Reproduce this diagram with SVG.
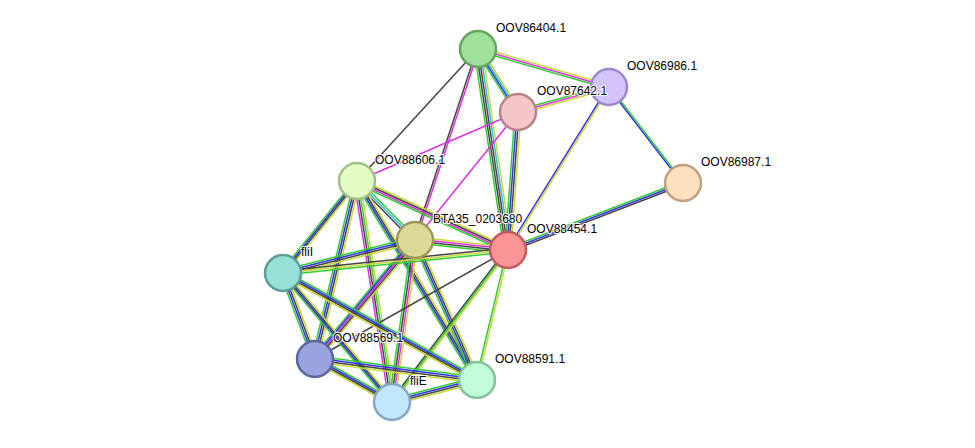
<svg xmlns="http://www.w3.org/2000/svg" width="975" height="448" viewBox="0 0 975 448">
<style>
line{stroke-width:1.5;fill:none}
.g{stroke:#33cc33}.b{stroke:#3333ee}.k{stroke:#444}.y{stroke:#c8d83a}.m{stroke:#dd33dd}.c{stroke:#33bbdd}
circle{stroke-width:2.5}
text{font-family:"Liberation Sans",Arial,sans-serif;font-size:12px;fill:#000;paint-order:stroke;stroke:#fff;stroke-width:2px}
</style>
<rect width="975" height="448" fill="#fff"/>
<g id="edges">
<!-- A-B -->
<line x1="478" y1="49" x2="609" y2="87" class="y" transform="translate(0,-2)"/>
<line x1="478" y1="49" x2="609" y2="87" class="m"/>
<line x1="478" y1="49" x2="609" y2="87" class="g" transform="translate(0,2)"/>
<!-- A-C -->
<line x1="478" y1="49" x2="518" y2="112" class="g" transform="translate(-3,0)"/>
<line x1="478" y1="49" x2="518" y2="112" class="b" transform="translate(-1,0)"/>
<line x1="478" y1="49" x2="518" y2="112" class="c" transform="translate(1,0)"/>
<line x1="478" y1="49" x2="518" y2="112" class="y" transform="translate(3,0)"/>
<!-- A-G -->
<line x1="478" y1="49" x2="508" y2="250" class="g" transform="translate(-4,0)"/>
<line x1="478" y1="49" x2="508" y2="250" class="k" transform="translate(-2,0)"/>
<line x1="478" y1="49" x2="508" y2="250" class="k"/>
<line x1="478" y1="49" x2="508" y2="250" class="c" transform="translate(2,0)"/>
<line x1="478" y1="49" x2="508" y2="250" class="y" transform="translate(4,0)"/>
<!-- A-E, A-F -->
<line x1="478" y1="49" x2="357" y2="181" class="k"/>
<line x1="478" y1="49" x2="415" y2="240" class="k" transform="translate(-1,0)"/>
<line x1="478" y1="49" x2="415" y2="240" class="m" transform="translate(1,0)"/>
<!-- C-B -->
<line x1="518" y1="112" x2="609" y2="87" class="g" transform="translate(0,-2)"/>
<line x1="518" y1="112" x2="609" y2="87" class="m"/>
<line x1="518" y1="112" x2="609" y2="87" class="y" transform="translate(0,2)"/>
<!-- C-G -->
<line x1="518" y1="112" x2="508" y2="250" class="g" transform="translate(-3,0)"/>
<line x1="518" y1="112" x2="508" y2="250" class="b" transform="translate(-1,0)"/>
<line x1="518" y1="112" x2="508" y2="250" class="k" transform="translate(1,0)"/>
<line x1="518" y1="112" x2="508" y2="250" class="y" transform="translate(3,0)"/>
<!-- C-E, C-F -->
<line x1="518" y1="112" x2="357" y2="181" class="m"/>
<line x1="518" y1="112" x2="415" y2="240" class="m"/>
<!-- B-G -->
<line x1="609" y1="87" x2="508" y2="250" class="b" transform="translate(-1,0)"/>
<line x1="609" y1="87" x2="508" y2="250" class="y" transform="translate(1,0)"/>
<!-- B-D -->
<line x1="609" y1="87" x2="683" y2="183" class="b" transform="translate(-1,0)"/>
<line x1="609" y1="87" x2="683" y2="183" class="g" transform="translate(1,0)"/>
<!-- D-G -->
<line x1="683" y1="183" x2="508" y2="250" class="g" transform="translate(0,-2)"/>
<line x1="683" y1="183" x2="508" y2="250" class="b"/>
<line x1="683" y1="183" x2="508" y2="250" class="k" transform="translate(0,2)"/>
<!-- E-F -->
<line x1="357" y1="181" x2="415" y2="240" class="k" transform="translate(-1.5,1.5)"/>
<line x1="357" y1="181" x2="415" y2="240" class="c" transform="translate(0,0)"/>
<line x1="357" y1="181" x2="415" y2="240" class="g" transform="translate(1.5,-1.5)"/>
<!-- E-G -->
<line x1="357" y1="181" x2="508" y2="250" class="y" transform="translate(0,-3)"/>
<line x1="357" y1="181" x2="508" y2="250" class="k" transform="translate(0,-1)"/>
<line x1="357" y1="181" x2="508" y2="250" class="m" transform="translate(0,1)"/>
<line x1="357" y1="181" x2="508" y2="250" class="g" transform="translate(0,3)"/>
<!-- E-H -->
<line x1="357" y1="181" x2="283" y2="273" class="g" transform="translate(-3,0)"/>
<line x1="357" y1="181" x2="283" y2="273" class="b" transform="translate(-1,0)"/>
<line x1="357" y1="181" x2="283" y2="273" class="k" transform="translate(1,0)"/>
<line x1="357" y1="181" x2="283" y2="273" class="y" transform="translate(3,0)"/>
<!-- E-I -->
<line x1="357" y1="181" x2="315" y2="359" class="g" transform="translate(-3,0)"/>
<line x1="357" y1="181" x2="315" y2="359" class="b" transform="translate(-1,0)"/>
<line x1="357" y1="181" x2="315" y2="359" class="k" transform="translate(1,0)"/>
<line x1="357" y1="181" x2="315" y2="359" class="y" transform="translate(3,0)"/>
<!-- E-K -->
<line x1="357" y1="181" x2="392" y2="402" class="m" transform="translate(-3,0)"/>
<line x1="357" y1="181" x2="392" y2="402" class="k" transform="translate(-1,0)"/>
<line x1="357" y1="181" x2="392" y2="402" class="g" transform="translate(1,0)"/>
<line x1="357" y1="181" x2="392" y2="402" class="y" transform="translate(3,0)"/>
<!-- E-J -->
<line x1="357" y1="181" x2="477" y2="380" class="g" transform="translate(-3,0)"/>
<line x1="357" y1="181" x2="477" y2="380" class="b" transform="translate(-1,0)"/>
<line x1="357" y1="181" x2="477" y2="380" class="k" transform="translate(1,0)"/>
<line x1="357" y1="181" x2="477" y2="380" class="y" transform="translate(3,0)"/>
<!-- F-G -->
<line x1="415" y1="240" x2="508" y2="250" class="y" transform="translate(0,-3)"/>
<line x1="415" y1="240" x2="508" y2="250" class="m" transform="translate(0,-1)"/>
<line x1="415" y1="240" x2="508" y2="250" class="k" transform="translate(0,1)"/>
<line x1="415" y1="240" x2="508" y2="250" class="g" transform="translate(0,3)"/>
<!-- F-H -->
<line x1="415" y1="240" x2="283" y2="273" class="g" transform="translate(0,-3)"/>
<line x1="415" y1="240" x2="283" y2="273" class="b" transform="translate(0,-1)"/>
<line x1="415" y1="240" x2="283" y2="273" class="k" transform="translate(0,1)"/>
<line x1="415" y1="240" x2="283" y2="273" class="y" transform="translate(0,3)"/>
<!-- F-I -->
<line x1="415" y1="240" x2="315" y2="359" class="g" transform="translate(-4,0)"/>
<line x1="415" y1="240" x2="315" y2="359" class="b" transform="translate(-2,0)"/>
<line x1="415" y1="240" x2="315" y2="359" class="m"/>
<line x1="415" y1="240" x2="315" y2="359" class="k" transform="translate(2,0)"/>
<line x1="415" y1="240" x2="315" y2="359" class="y" transform="translate(4,0)"/>
<!-- F-K -->
<line x1="415" y1="240" x2="392" y2="402" class="g" transform="translate(-3,0)"/>
<line x1="415" y1="240" x2="392" y2="402" class="k" transform="translate(-1,0)"/>
<line x1="415" y1="240" x2="392" y2="402" class="m" transform="translate(1,0)"/>
<line x1="415" y1="240" x2="392" y2="402" class="y" transform="translate(3,0)"/>
<!-- F-J -->
<line x1="415" y1="240" x2="477" y2="380" class="g" transform="translate(-3,0)"/>
<line x1="415" y1="240" x2="477" y2="380" class="b" transform="translate(-1,0)"/>
<line x1="415" y1="240" x2="477" y2="380" class="k" transform="translate(1,0)"/>
<line x1="415" y1="240" x2="477" y2="380" class="y" transform="translate(3,0)"/>
<!-- G-H -->
<line x1="508" y1="250" x2="283" y2="273" class="k" transform="translate(0,-2)"/>
<line x1="508" y1="250" x2="283" y2="273" class="y"/>
<line x1="508" y1="250" x2="283" y2="273" class="g" transform="translate(0,2)"/>
<!-- G-I -->
<line x1="508" y1="250" x2="315" y2="359" class="k"/>
<!-- G-K -->
<line x1="508" y1="250" x2="392" y2="402" class="k" transform="translate(-2,0)"/>
<line x1="508" y1="250" x2="392" y2="402" class="g"/>
<line x1="508" y1="250" x2="392" y2="402" class="y" transform="translate(2,0)"/>
<!-- G-J -->
<line x1="508" y1="250" x2="477" y2="380" class="g" transform="translate(-1,0)"/>
<line x1="508" y1="250" x2="477" y2="380" class="y" transform="translate(1,0)"/>
<!-- H-I -->
<line x1="283" y1="273" x2="315" y2="359" class="g" transform="translate(-3,0)"/>
<line x1="283" y1="273" x2="315" y2="359" class="b" transform="translate(-1,0)"/>
<line x1="283" y1="273" x2="315" y2="359" class="k" transform="translate(1,0)"/>
<line x1="283" y1="273" x2="315" y2="359" class="y" transform="translate(3,0)"/>
<!-- H-K -->
<line x1="283" y1="273" x2="392" y2="402" class="g" transform="translate(-3,0)"/>
<line x1="283" y1="273" x2="392" y2="402" class="b" transform="translate(-1,0)"/>
<line x1="283" y1="273" x2="392" y2="402" class="k" transform="translate(1,0)"/>
<line x1="283" y1="273" x2="392" y2="402" class="y" transform="translate(3,0)"/>
<!-- H-J -->
<line x1="283" y1="273" x2="477" y2="380" class="g" transform="translate(0,-3)"/>
<line x1="283" y1="273" x2="477" y2="380" class="b" transform="translate(0,-1)"/>
<line x1="283" y1="273" x2="477" y2="380" class="k" transform="translate(0,1)"/>
<line x1="283" y1="273" x2="477" y2="380" class="y" transform="translate(0,3)"/>
<!-- I-K -->
<line x1="315" y1="359" x2="392" y2="402" class="g" transform="translate(0,-3)"/>
<line x1="315" y1="359" x2="392" y2="402" class="b" transform="translate(0,-1)"/>
<line x1="315" y1="359" x2="392" y2="402" class="k" transform="translate(0,1)"/>
<line x1="315" y1="359" x2="392" y2="402" class="y" transform="translate(0,3)"/>
<!-- I-J -->
<line x1="315" y1="359" x2="477" y2="380" class="g" transform="translate(0,-3)"/>
<line x1="315" y1="359" x2="477" y2="380" class="b" transform="translate(0,-1)"/>
<line x1="315" y1="359" x2="477" y2="380" class="k" transform="translate(0,1)"/>
<line x1="315" y1="359" x2="477" y2="380" class="y" transform="translate(0,3)"/>
<!-- K-J -->
<line x1="392" y1="402" x2="477" y2="380" class="g" transform="translate(0,-3)"/>
<line x1="392" y1="402" x2="477" y2="380" class="b" transform="translate(0,-1)"/>
<line x1="392" y1="402" x2="477" y2="380" class="k" transform="translate(0,1)"/>
<line x1="392" y1="402" x2="477" y2="380" class="y" transform="translate(0,3)"/>
</g>
<g id="OOV86404.1"><circle cx="478" cy="49" r="18" fill="#9fe09a" stroke="#63a65e"/><text x="496" y="32">OOV86404.1</text></g>
<g id="OOV86986.1"><circle cx="609" cy="87" r="18" fill="#d4c3fb" stroke="#9d89c9"/><text x="627" y="70">OOV86986.1</text></g>
<g id="OOV87642.1"><circle cx="518" cy="112" r="18" fill="#f6c5c7" stroke="#b68486"/><text x="537" y="95">OOV87642.1</text></g>
<g id="OOV86987.1"><circle cx="683" cy="183" r="18" fill="#fde0c0" stroke="#bfa082"/><text x="701" y="166">OOV86987.1</text></g>
<g id="OOV88606.1"><circle cx="357" cy="181" r="18" fill="#e3fcc6" stroke="#a5bf8a"/><text x="375" y="164">OOV88606.1</text></g>
<g id="BTA35_0203680"><circle cx="415" cy="240" r="18" fill="#dcd896" stroke="#9e9a5c"/><text x="433" y="223">BTA35_0203680</text></g>
<g id="OOV88454.1"><circle cx="508" cy="250" r="18" fill="#fb9595" stroke="#c05c5c"/><text x="527" y="233">OOV88454.1</text></g>
<g id="fliI"><circle cx="283" cy="273" r="18" fill="#96e0d8" stroke="#5a9e97"/><text x="301" y="256">fliI</text></g>
<g id="OOV88569.1"><circle cx="315" cy="359" r="18" fill="#9aa3e0" stroke="#5c66a3"/><text x="333" y="342">OOV88569.1</text></g>
<g id="OOV88591.1"><circle cx="477" cy="380" r="18" fill="#c1fbd8" stroke="#80c39c"/><text x="495" y="363">OOV88591.1</text></g>
<g id="fliE"><circle cx="392" cy="402" r="18" fill="#c2e6fb" stroke="#84a8c1"/><text x="410" y="385">fliE</text></g>
</svg>
